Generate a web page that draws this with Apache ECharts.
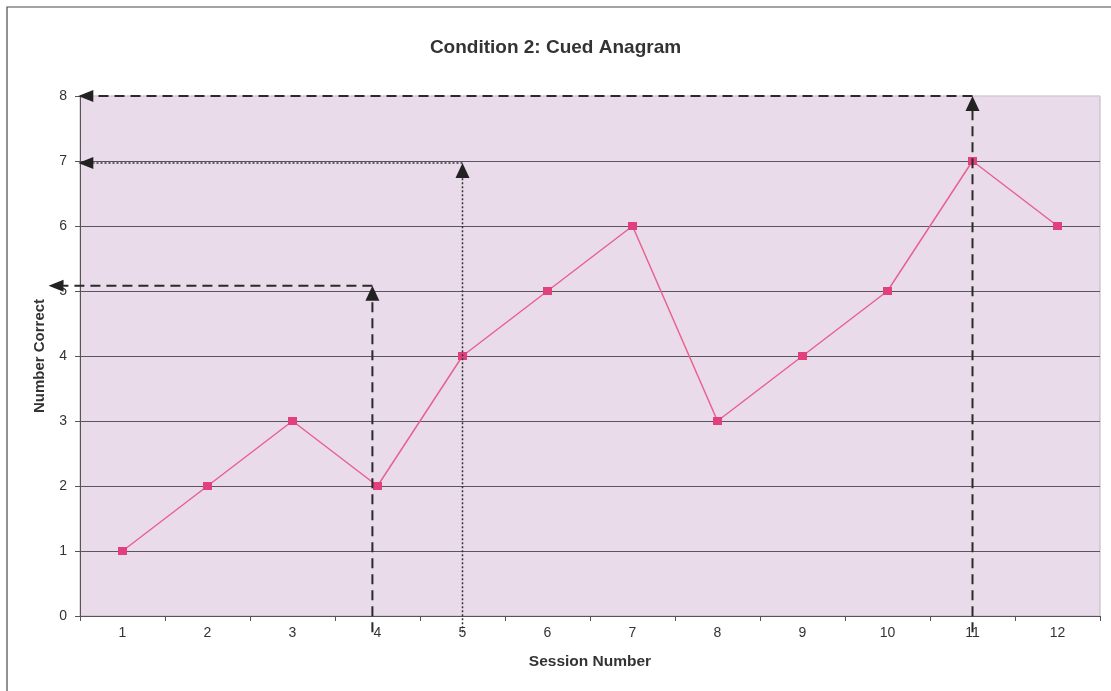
<!DOCTYPE html>
<html><head><meta charset="utf-8">
<script src="https://cdn.jsdelivr.net/npm/echarts@6/dist/echarts.min.js"></script>
<style>html,body{margin:0;padding:0;background:#fff}#c{width:1111px;height:691px}</style>
</head><body><div id="c"></div><script>
// ---- data ----
const sessions = ['1','2','3','4','5','6','7','8','9','10','11','12'];
const numberCorrect = [1, 2, 3, 2, 4, 5, 6, 3, 4, 5, 7, 6];
const yTickMin = 0, yTickMax = 8, yTickStep = 1;
// annotation arrows (in session / value units)
const arrowSessions = [3.94, 5, 11];
const arrowLevels = [5.08, 6.97, 8];
const arrowLeftEnds = [0.13, 0.48, 0.48];
const arrowBottomLevels = [-0.25, -0.25, -0.25];
const arrowKinds = ['dashed', 'dotted', 'dashed'];

const FONT = '"Liberation Sans", Arial, sans-serif';
const chart = echarts.init(document.getElementById('c'), null, {renderer: 'canvas'});

const splitColors = [];
for (let v = yTickMin; v <= yTickMax; v += yTickStep) splitColors.push(v === yTickMax ? '#dccbdc' : '#5a5560');

chart.setOption({
  animation: false,
  backgroundColor: '#ffffff',
  title: {
    text: 'Condition 2: Cued Anagram', left: 'center', top: 33,
    textStyle: {fontFamily: FONT, fontSize: 19, fontWeight: 'bold', color: '#333'}
  },
  grid: {left: 80, right: 11, top: 96, bottom: 75, show: true,
         backgroundColor: '#e9dbea', borderColor: '#bfb4c0', borderWidth: 1},
  xAxis: {
    type: 'category', data: sessions, boundaryGap: true,
    name: 'Session Number', nameLocation: 'middle', nameGap: 38,
    nameTextStyle: {fontFamily: FONT, fontSize: 15.5, fontWeight: 'bold', color: '#333'},
    axisLine: {lineStyle: {color: '#555', width: 1}},
    axisTick: {show: true, length: 5, alignWithLabel: false, lineStyle: {color: '#555'}},
    axisLabel: {fontFamily: FONT, fontSize: 14, color: '#333', margin: 10},
    splitLine: {show: false}
  },
  yAxis: {
    type: 'value', min: yTickMin, max: yTickMax, interval: yTickStep,
    name: 'Number Correct', nameLocation: 'middle', nameGap: 33,
    nameTextStyle: {fontFamily: FONT, fontSize: 15, fontWeight: 'bold', color: '#333'},
    axisLine: {show: true, lineStyle: {color: '#555', width: 1}},
    axisTick: {show: true, length: 5, lineStyle: {color: '#555'}},
    axisLabel: {fontFamily: FONT, fontSize: 14, color: '#333', margin: 13},
    splitLine: {show: true, lineStyle: {color: splitColors, width: 1}}
  },
  series: [{
    type: 'line', data: numberCorrect,
    symbol: 'rect', symbolSize: [9, 8],
    itemStyle: {color: '#e2407c'},
    lineStyle: {color: '#e8628f', width: 1.5}
  }]
});

function px(session, level) {
  const a = chart.convertToPixel({xAxisIndex: 0, yAxisIndex: 0}, [0, level]);
  const b = chart.convertToPixel({xAxisIndex: 0, yAxisIndex: 0}, [1, level]);
  return [a[0] + (session - 1) * (b[0] - a[0]), a[1]];
}

const graphics = [{
  type: 'rect', shape: {x: 7, y: 7, width: 1200, height: 800},
  style: {fill: null, stroke: '#4a4a4a', lineWidth: 1.2}, silent: true, z: 0
}];
arrowSessions.forEach((s, i) => {
  const dashed = arrowKinds[i] === 'dashed';
  const style = dashed
    ? {stroke: '#2a2a2a', lineWidth: 2, lineDash: [10, 6]}
    : {stroke: '#333', lineWidth: 1.5, lineDash: [2, 2]};
  const top = px(s, arrowLevels[i]);
  const bot = px(s, arrowBottomLevels[i]);
  const left = px(arrowLeftEnds[i], arrowLevels[i]);
  const head = 15, half = 7;
  graphics.push({type: 'line', shape: {x1: bot[0], y1: bot[1], x2: top[0], y2: top[1] + head}, style: style, z: 100});
  graphics.push({type: 'line', shape: {x1: top[0], y1: top[1], x2: left[0] + head, y2: left[1]}, style: style, z: 100});
  graphics.push({type: 'polygon', shape: {points: [[top[0], top[1]], [top[0] - half, top[1] + head], [top[0] + half, top[1] + head]]},
                 style: {fill: '#222'}, z: 101});
  graphics.push({type: 'polygon', shape: {points: [[left[0], left[1]], [left[0] + head, left[1] - half + 1], [left[0] + head, left[1] + half - 1]]},
                 style: {fill: '#222'}, z: 101});
});
chart.setOption({graphic: graphics});
</script></body></html>
